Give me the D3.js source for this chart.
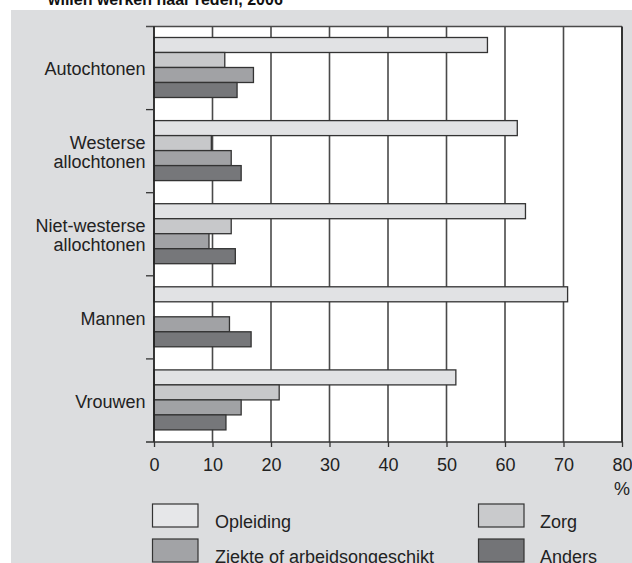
<!DOCTYPE html>
<html>
<head>
<meta charset="utf-8">
<script src="https://cdn.jsdelivr.net/npm/d3@7"></script>
<style>
  html, body { margin: 0; padding: 0; background: #ffffff; }
  svg { display: block; font-family: "Liberation Sans", Arial, sans-serif; }
</style>
</head>
<body>
<svg id="chart" width="632" height="563"></svg>
<script>
// ---- data ----
const categories = ["Autochtonen", "Westerse allochtonen", "Niet-westerse allochtonen", "Mannen", "Vrouwen"];
const categoryLines = [["Autochtonen"], ["Westerse", "allochtonen"], ["Niet-westerse", "allochtonen"], ["Mannen"], ["Vrouwen"]];
const series = ["Opleiding", "Zorg", "Ziekte of arbeidsongeschikt", "Anders"];
const opleiding = [57.0, 62.1, 63.5, 70.7, 51.6];
const zorg = [12.1, 9.8, 13.2, 0, 21.4];
const ziekte = [17.0, 13.2, 9.4, 12.9, 14.9];
const anders = [14.2, 14.9, 13.9, 16.6, 12.3];
const xTicks = [0, 10, 20, 30, 40, 50, 60, 70, 80];
const title = "willen werken naar reden, 2006";
const unitLabel = "%";

const seriesValues = [opleiding, zorg, ziekte, anders];
const colors = ["#e1e2e4", "#c7c8ca", "#a1a2a5", "#76777a"];

// ---- layout ----
const svg = d3.select("#chart");
const plotLeft = 154, plotRight = 622, plotTop = 26.5, plotBottom = 442;
const font = 18;

// page / panel
svg.append("rect").attr("x", 0).attr("y", 0).attr("width", 632).attr("height", 563).attr("fill", "#ffffff");
svg.append("rect").attr("x", 11).attr("y", 10).attr("width", 621).attr("height", 553).attr("fill", "#dcdddf");

// title (partially cut off, as in the source)
svg.append("text").attr("x", 48).attr("y", 4.5)
  .attr("font-size", 16).attr("font-weight", "bold").attr("fill", "#111")
  .text(title);

const x = d3.scaleLinear().domain([0, 80]).range([plotLeft, plotRight]);
const y0 = d3.scaleBand().domain(categories).range([plotTop, plotBottom]).padding(0);
const y1 = d3.scaleBand().domain(series).range([11, 71]).padding(0);

// plot background
svg.append("rect").attr("x", plotLeft).attr("y", plotTop)
  .attr("width", plotRight - plotLeft).attr("height", plotBottom - plotTop)
  .attr("fill", "#ffffff");

// vertical gridlines
svg.append("g").selectAll("line").data(xTicks.slice(1, -1)).join("line")
  .attr("x1", d => x(d)).attr("x2", d => x(d))
  .attr("y1", plotTop).attr("y2", plotBottom)
  .attr("stroke", "#4a4a4a").attr("stroke-width", 1.6);

// bars
const groups = svg.append("g").selectAll("g").data(categories).join("g")
  .attr("transform", c => `translate(0,${y0(c)})`);
groups.each(function(c, ci) {
  const data = series.map((s, si) => ({ s, si, v: seriesValues[si][ci] })).filter(d => d.v > 0);
  d3.select(this).selectAll("rect").data(data).join("rect")
    .attr("x", x(0))
    .attr("y", d => y1(d.s))
    .attr("width", d => x(d.v) - x(0))
    .attr("height", y1.bandwidth())
    .attr("fill", d => colors[d.si])
    .attr("stroke", "#333333").attr("stroke-width", 1.3);
});

// top line & right border
svg.append("line").attr("x1", 146).attr("x2", plotRight).attr("y1", plotTop).attr("y2", plotTop)
  .attr("stroke", "#4a4a4a").attr("stroke-width", 1.6);
svg.append("line").attr("x1", plotRight).attr("x2", plotRight).attr("y1", plotTop).attr("y2", plotBottom)
  .attr("stroke", "#333").attr("stroke-width", 2);

// y axis (left) with boundary ticks
const yAxisG = svg.append("g");
yAxisG.append("line").attr("x1", plotLeft).attr("x2", plotLeft).attr("y1", plotTop).attr("y2", plotBottom)
  .attr("stroke", "#222").attr("stroke-width", 1.8);
yAxisG.selectAll("line.bt").data(categories.slice(1)).join("line").attr("class", "bt")
  .attr("x1", 146).attr("x2", plotLeft).attr("y1", c => y0(c)).attr("y2", c => y0(c))
  .attr("stroke", "#333").attr("stroke-width", 1.3);

// category labels
categories.forEach((c, i) => {
  const lines = categoryLines[i];
  const mid = y0(c) + y0.bandwidth() / 2 + 1;
  const lh = 18.5;
  const t = svg.append("text").attr("text-anchor", "end").attr("font-size", font).attr("fill", "#222");
  lines.forEach((ln, li) => {
    const base = mid + 6.4 + (li - (lines.length - 1) / 2) * lh;
    t.append("tspan").attr("x", 145.5).attr("y", base).text(ln);
  });
});

// x axis
const xAxis = d3.axisBottom(x).tickValues(xTicks).tickSize(5).tickPadding(11).tickFormat(d3.format("d"));
const xg = svg.append("g").attr("transform", `translate(0,${plotBottom})`).call(xAxis);
xg.select(".domain").remove();
xg.append("line").attr("x1", 146).attr("x2", plotRight).attr("y1", 0).attr("y2", 0)
  .attr("stroke", "#333").attr("stroke-width", 1.6);
xg.selectAll(".tick line").attr("stroke", "#333").attr("stroke-width", 1.3);
xg.selectAll(".tick text").attr("font-size", font).attr("fill", "#222")
  .attr("font-family", "Liberation Sans, Arial, sans-serif");
svg.append("text").attr("x", x(80)).attr("y", 495).attr("text-anchor", "middle")
  .attr("font-size", font).attr("fill", "#222").text(unitLabel);

// legend
const legendPos = [
  { bx: 152.5, by: 504, tx: 215 },
  { bx: 478.5, by: 504, tx: 540 },
  { bx: 152.5, by: 539, tx: 215 },
  { bx: 478.5, by: 539, tx: 540 }
];
const legendColors = ["#e6e7e9", "#c9cacc", "#a2a3a6", "#737477"];
const lg = svg.append("g").selectAll("g").data(series).join("g");
lg.append("rect")
  .attr("x", (d, i) => legendPos[i].bx).attr("y", (d, i) => legendPos[i].by)
  .attr("width", 45.5).attr("height", 23)
  .attr("fill", (d, i) => legendColors[i]).attr("stroke", "#333").attr("stroke-width", 1.2);
lg.append("text")
  .attr("x", (d, i) => legendPos[i].tx).attr("y", (d, i) => legendPos[i].by + 24)
  .attr("font-size", font).attr("fill", "#222")
  .text(d => d);
</script>
</body>
</html>
